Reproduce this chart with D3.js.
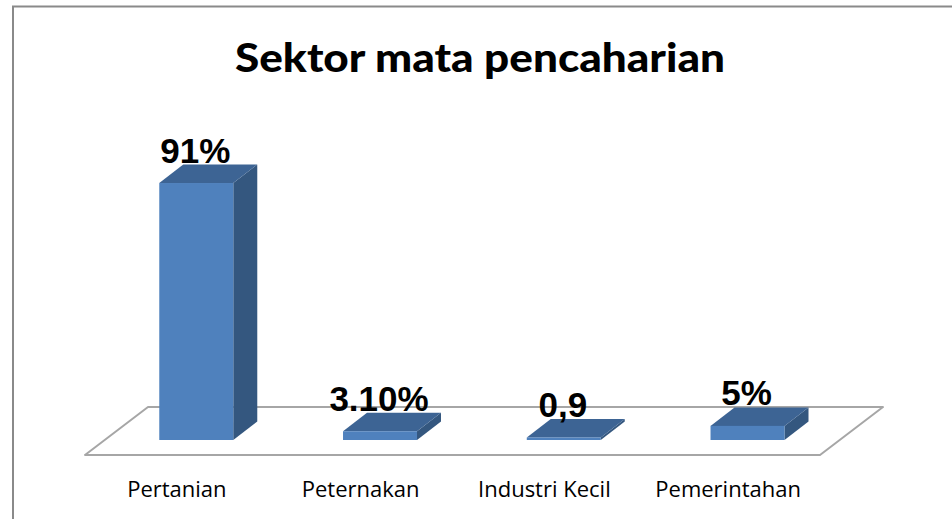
<!DOCTYPE html>
<html><head><meta charset="utf-8">
<script src="https://cdn.jsdelivr.net/npm/d3@7"></script>
<style>html,body{margin:0;padding:0;background:#fff;}svg{display:block;}</style>
</head><body>
<script>
const categories = ["Pertanian", "Peternakan", "Industri Kecil", "Pemerintahan"];
const values = [91, 3.1, 0.9, 5];
const valueLabels = ["91%", "3.10%", "0,9", "5%"];
const title = "Sektor mata pencaharian";

const W = 952, H = 519;
const svg = d3.select("body").append("svg").attr("width", W).attr("height", H);

// frame
svg.append("path").attr("d", `M13,${H} L13,6.5 L${W},6.5`)
  .attr("fill", "none").attr("stroke", "#8a8a8a").attr("stroke-width", 2);

// title
svg.append("text").attr("x", 480).attr("y", 72).attr("text-anchor", "middle")
  .attr("font-family", "Lato, 'Open Sans', sans-serif").attr("font-weight", "900")
  .attr("font-size", 40).attr("textLength", 490).attr("lengthAdjust", "spacingAndGlyphs")
  .attr("fill", "#000").text(title);

const x = d3.scaleBand().domain(categories).range([85, 820]).padding(0);
const y = d3.scaleLinear().domain([0, 100]).range([440, 157.6]);

const floorFront = 455, floorDX = 63, floorDY = -48;
// floor
svg.append("path")
  .attr("d", `M${x.range()[0]},${floorFront} L${x.range()[1]},${floorFront} L${x.range()[1]+floorDX},${floorFront+floorDY} L${x.range()[0]+floorDX},${floorFront+floorDY} Z`)
  .attr("fill", "#fff").attr("stroke", "#a6a6a6").attr("stroke-width", 2).attr("stroke-linejoin", "round");

const barW = 74, dX = 24, dY = -18.5, shift = 19.4;
const g = svg.append("g");
categories.forEach((c, i) => {
  const cx = x(c) + x.bandwidth() / 2 + shift;
  const x0 = cx - barW / 2, x1 = cx + barW / 2;
  const yb = y(0), yt = y(values[i]);
  // side
  g.append("path").attr("d", `M${x1},${yb} L${x1+dX},${yb+dY} L${x1+dX},${yt+dY} L${x1},${yt} Z`)
    .attr("fill", "#34577f");
  // top
  g.append("path").attr("d", `M${x0},${yt} L${x1},${yt} L${x1+dX},${yt+dY} L${x0+dX},${yt+dY} Z`)
    .attr("fill", "#3d6494");
  // front
  g.append("rect").attr("x", x0).attr("y", yt).attr("width", barW).attr("height", yb - yt)
    .attr("fill", "#4f81bd");
  // value label
  g.append("text").attr("x", cx - 1).attr("y", yt + dY - 2).attr("text-anchor", "middle")
    .attr("font-family", "'Liberation Sans', Arial, sans-serif").attr("font-weight", "bold")
    .attr("font-size", 35).attr("fill", "#000").text(valueLabels[i]);
  // category label
  svg.append("text").attr("x", x(c) + x.bandwidth() / 2).attr("y", 497).attr("text-anchor", "middle")
    .attr("font-family", "'Open Sans', sans-serif").attr("font-size", 22).attr("fill", "#000").text(c);
});
</script>
</body></html>
